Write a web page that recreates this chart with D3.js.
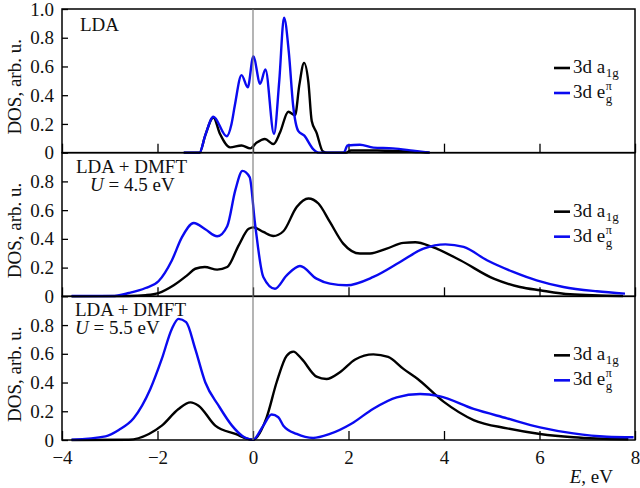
<!DOCTYPE html>
<html>
<head>
<meta charset="utf-8">
<script src="https://cdn.jsdelivr.net/npm/d3@7"></script>
<style>
  html, body { margin: 0; padding: 0; background: #fff; }
  svg { display: block; font-family: "Liberation Serif", "DejaVu Serif", serif; }
</style>
</head>
<body>
<svg id="chart" width="640" height="488"></svg>
<script>
// Energy axis ticks (eV) and DOS ticks
const energyTicks = [-4, -2, 0, 2, 4, 6, 8];
const dosTicksTop = [0, 0.2, 0.4, 0.6, 0.8, 1.0];
const dosTicks = [0, 0.2, 0.4, 0.6, 0.8];

// LDA: [E, DOS]
const ldaA1g = [
  [-1.45, 0], [-1.12, 0], [-1.0, 0.12], [-0.83, 0.245], [-0.69, 0.13], [-0.48, 0.037],
  [-0.24, 0.05], [-0.06, 0.03], [0.08, 0.07], [0.25, 0.095], [0.43, 0.06],
  [0.565, 0.14], [0.74, 0.285], [0.88, 0.26], [0.97, 0.47], [1.07, 0.625],
  [1.16, 0.49], [1.23, 0.22], [1.33, 0.14], [1.46, 0.01], [1.55, 0],
  [1.95, 0], [2.05, 0.015], [2.6, 0.015], [3.1, 0.01], [3.5, 0.004], [3.7, 0]
];
const ldaEg = [
  [-1.45, 0], [-1.12, 0], [-1.0, 0.12], [-0.83, 0.25], [-0.55, 0.114], [-0.45, 0.2],
  [-0.38, 0.33], [-0.24, 0.54], [-0.11, 0.455], [0.007, 0.67], [0.15, 0.48],
  [0.26, 0.58], [0.44, 0.13], [0.55, 0.5], [0.65, 0.94], [0.75, 0.7], [0.84, 0.33],
  [0.95, 0.15], [1.07, 0.12], [1.26, 0.025], [1.38, 0], [1.9, 0], [1.98, 0.05],
  [2.24, 0.055], [2.52, 0.035], [2.93, 0.03], [3.35, 0.014], [3.7, 0]
];

// LDA+DMFT, U = 4.5 eV
const dmft45A1g = [
  [-3.8, 0], [-2.6, 0.002], [-2.25, 0.008], [-1.98, 0.023], [-1.66, 0.077],
  [-1.38, 0.146], [-1.21, 0.192], [-1.01, 0.204], [-0.75, 0.186], [-0.54, 0.204],
  [-0.3, 0.355], [-0.09, 0.47], [0.01, 0.48], [0.216, 0.448], [0.426, 0.42],
  [0.636, 0.453], [0.915, 0.622], [1.16, 0.681], [1.37, 0.646], [1.61, 0.518],
  [1.89, 0.367], [2.24, 0.298], [2.45, 0.298], [2.8, 0.332], [3.15, 0.372],
  [3.4, 0.376], [3.75, 0.344], [4.34, 0.251], [5.04, 0.123], [5.59, 0.065],
  [6.01, 0.042], [6.64, 0.014], [7.75, 0.002]
];
const dmft45Eg = [
  [-3.8, 0.002], [-2.95, 0.002], [-2.6, 0.023], [-2.25, 0.058], [-1.98, 0.105],
  [-1.7, 0.25], [-1.49, 0.41], [-1.24, 0.51], [-1.0, 0.467], [-0.75, 0.418],
  [-0.54, 0.488], [-0.37, 0.739], [-0.22, 0.873], [-0.07, 0.83], [0.042, 0.507],
  [0.216, 0.135], [0.46, 0.053], [0.706, 0.146], [0.984, 0.211], [1.33, 0.123],
  [1.61, 0.088], [1.96, 0.077], [2.52, 0.135], [3.08, 0.239], [3.57, 0.332],
  [4.03, 0.362], [4.41, 0.344], [4.9, 0.251], [5.45, 0.17], [5.94, 0.111],
  [6.5, 0.065], [7.2, 0.035], [7.79, 0.019]
];

// LDA+DMFT, U = 5.5 eV
const dmft55A1g = [
  [-3.8, 0], [-2.6, 0.002], [-2.18, 0.042], [-1.91, 0.1], [-1.56, 0.216],
  [-1.31, 0.262], [-1.14, 0.239], [-0.79, 0.1], [-0.37, 0.042], [0.0, 0.002],
  [0.286, 0.158], [0.495, 0.402], [0.706, 0.587], [0.845, 0.615], [1.02, 0.564],
  [1.33, 0.441], [1.54, 0.425], [1.82, 0.472], [2.14, 0.56], [2.52, 0.596],
  [2.83, 0.578], [3.15, 0.495], [3.45, 0.425], [3.99, 0.267], [4.62, 0.139],
  [5.32, 0.081], [6.01, 0.042], [6.71, 0.019], [7.86, 0.005]
];
const dmft55Eg = [
  [-3.8, 0.002], [-3.09, 0.025], [-2.81, 0.07], [-2.5, 0.151], [-2.15, 0.355],
  [-1.91, 0.564], [-1.7, 0.773], [-1.56, 0.843], [-1.4, 0.82], [-1.21, 0.634],
  [-1.0, 0.402], [-0.72, 0.239], [-0.44, 0.1], [-0.23, 0.03], [0.0, 0.002],
  [0.216, 0.1], [0.39, 0.177], [0.53, 0.158], [0.636, 0.1], [0.915, 0.042],
  [1.26, 0.014], [1.61, 0.042], [2.06, 0.113], [2.52, 0.218], [3.01, 0.297],
  [3.5, 0.32], [3.9, 0.305], [4.62, 0.216], [5.32, 0.151], [6.01, 0.088],
  [6.71, 0.046], [7.41, 0.023], [7.97, 0.019]
];

const panelTitles = [["LDA"], ["LDA + DMFT", "4.5 eV"], ["LDA + DMFT", "5.5 eV"]];

const panels = [
  { title: panelTitles[0], a1g: ldaA1g, eg: ldaEg, ticks: dosTicksTop, tx: 80, uy: 0 },
  { title: panelTitles[1], a1g: dmft45A1g, eg: dmft45Eg, ticks: dosTicks, tx: 76, ux: 90 },
  { title: panelTitles[2], a1g: dmft55A1g, eg: dmft55Eg, ticks: dosTicks, tx: 75, ux: 75 }
];

const svg = d3.select("#chart");
const plotLeft = 62, plotRight = 635, plotTop = 9, plotBottom = 440;
const panelH = (plotBottom - plotTop) / panels.length;
const fontSize = 19;
const blue = "#0a0af0";

const x = d3.scaleLinear().domain([-4, 8]).range([plotLeft, plotRight]);
const fmt = d => d === 0 ? "0" : d.toFixed(1);

panels.forEach((p, i) => {
  const y0 = plotTop + panelH * (i + 1);
  const y1 = plotTop + panelH * i;
  const y = d3.scaleLinear().domain([0, 1]).range([y0, y1]);

  // y axis, inward ticks
  const ya = svg.append("g").attr("transform", `translate(${plotLeft},0)`)
    .call(d3.axisLeft(y).tickValues(p.ticks).tickFormat(fmt).tickSizeInner(-6).tickSizeOuter(0).tickPadding(8));
  ya.select(".domain").remove();
  ya.selectAll("line").attr("stroke", "#000").attr("stroke-width", 1.3);
  ya.selectAll("text").attr("font-size", fontSize).attr("font-family", "Liberation Serif").attr("fill", "#111");

  // x axis ticks along each panel bottom
  const xa = svg.append("g").attr("transform", `translate(0,${y0})`)
    .call(d3.axisBottom(x).tickValues(energyTicks).tickSizeInner(-9).tickSizeOuter(0).tickPadding(10.5)
      .tickFormat(i === panels.length - 1 ? d3.format("d") : () => ""));
  xa.select(".domain").remove();
  xa.selectAll("line").attr("stroke", "#000").attr("stroke-width", 1.3);
  xa.selectAll("text").attr("font-size", fontSize).attr("font-family", "Liberation Serif").attr("fill", "#111");

  // y axis title
  svg.append("text")
    .attr("transform", `translate(21,${(y0 + y1) / 2 + 6}) rotate(-90)`)
    .attr("text-anchor", "middle")
    .attr("font-size", fontSize)
    .attr("fill", "#111")
    .text("DOS, arb. u.");

  // curves
  const line = d3.line().x(d => x(d[0])).y(d => y(d[1])).curve(d3.curveMonotoneX);
  svg.append("path").datum(p.a1g).attr("d", line)
    .attr("fill", "none").attr("stroke", "#000").attr("stroke-width", 2.4).attr("stroke-linejoin", "round");
  svg.append("path").datum(p.eg).attr("d", line)
    .attr("fill", "none").attr("stroke", blue).attr("stroke-width", 2.4).attr("stroke-linejoin", "round");

  // panel title
  if (p.title.length === 1) {
    svg.append("text").attr("x", p.tx).attr("y", y1 + 22).attr("font-size", fontSize).attr("fill", "#111").text(p.title[0]);
  } else {
    svg.append("text").attr("x", p.tx).attr("y", y1 + 20).attr("font-size", fontSize).attr("fill", "#111").text(p.title[0]);
    const t = svg.append("text").attr("x", p.ux).attr("y", y1 + 38).attr("font-size", fontSize).attr("fill", "#111");
    t.append("tspan").attr("font-style", "italic").text("U");
    t.append("tspan").text(" = " + p.title[1]);
  }

  // legend
  const lx = 554, ly = y1 + 59;
  const entries = [
    { color: "#000", main: "3d a", sub: "1g", sup: null },
    { color: blue, main: "3d e", sub: "g", sup: "π" }
  ];
  entries.forEach((e, k) => {
    const yy = ly + k * 25;
    svg.append("line").attr("x1", lx).attr("x2", lx + 16).attr("y1", yy).attr("y2", yy)
      .attr("stroke", e.color).attr("stroke-width", 2.6);
    const t = svg.append("text").attr("x", lx + 19).attr("y", yy + 5).attr("font-size", fontSize).attr("fill", "#111").text(e.main);
    const w = t.node().getComputedTextLength();
    if (e.sup) {
      svg.append("text").attr("x", lx + 19 + w + 0.5).attr("y", yy - 3).attr("font-size", 12).attr("fill", "#111").text(e.sup);
      svg.append("text").attr("x", lx + 19 + w + 0.5).attr("y", yy + 10).attr("font-size", 13).attr("fill", "#111").text(e.sub);
    } else {
      svg.append("text").attr("x", lx + 19 + w + 0.5).attr("y", yy + 9).attr("font-size", 13).attr("fill", "#111").text(e.sub);
    }
  });

  // frame
  svg.append("rect").attr("x", plotLeft).attr("y", y1).attr("width", plotRight - plotLeft).attr("height", panelH)
    .attr("fill", "none").attr("stroke", "#000").attr("stroke-width", 1.5);
});

// Fermi level marker
svg.append("line").attr("x1", x(0)).attr("x2", x(0)).attr("y1", plotTop).attr("y2", plotBottom)
  .attr("stroke", "#777").attr("stroke-width", 1.1);

// x axis title
const xt = svg.append("text").attr("x", 613).attr("y", 483).attr("text-anchor", "end")
  .attr("font-size", fontSize).attr("fill", "#111");
xt.append("tspan").attr("font-style", "italic").text("E");
xt.append("tspan").text(", eV");
</script>
</body>
</html>
